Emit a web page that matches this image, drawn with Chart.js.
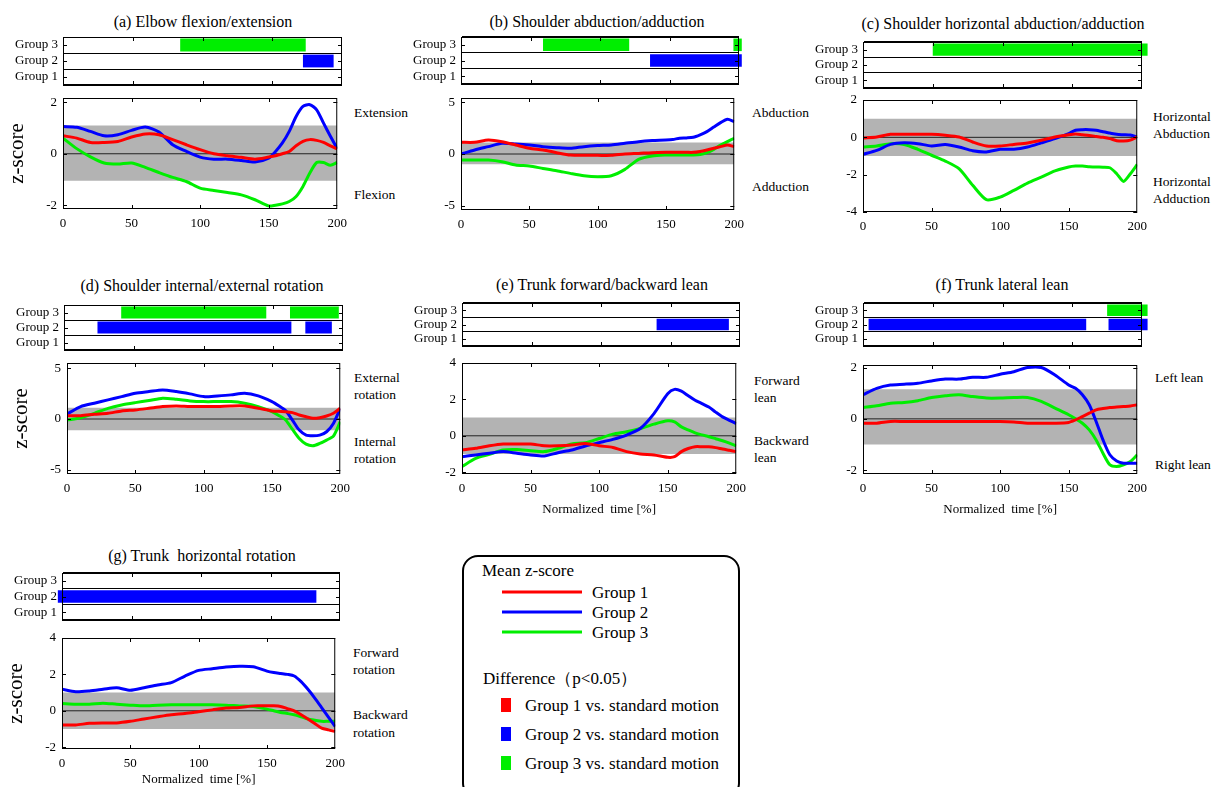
<!DOCTYPE html>
<html>
<head>
<meta charset="utf-8">
<title>Mean z-score</title>
<script src="https://cdn.jsdelivr.net/npm/chart.js@4.4.1/dist/chart.umd.min.js"></script>
<style>
  body { margin: 0; background: #fff; }
  #fig { position: relative; width: 1214px; height: 787px; overflow: hidden; background: #fff;
         font-family: 'Liberation Serif', 'Times New Roman', serif; color: #000; }
  #fig canvas { position: absolute; }
  .lbl { position: absolute; white-space: pre; line-height: 1; transform: translateY(-50%); font-size: 13.5px; }
  .ttl { position: absolute; white-space: pre; line-height: 1; transform: translate(-50%, -50%); font-size: 16px; }
  .leg { position: absolute; white-space: pre; line-height: 1; transform: translateY(-50%); font-size: 17px; }
  #legendBox { position: absolute; left: 462px; top: 555px; width: 274px; height: 240px;
               border: 2px solid #000; border-radius: 16px; }
</style>
</head>
<body>
<div id="fig"><div id="legendBox"></div></div>
<script>
// sample points along normalized time (%)
const timePts = [0, 10, 20, 30, 40, 50, 60, 70, 80, 90, 100, 110, 120, 130, 140, 150,
                 155, 160, 165, 170, 175, 180, 185, 190, 195, 200];
const groupNames = ['Group 1', 'Group 2', 'Group 3'];
const stripRows = ['Group 3', 'Group 2', 'Group 1'];
const groupColors = ['#ff0000', '#0000ff', '#00ee00'];
const xTickVals = [0, 50, 100, 150, 200];

// (a) Elbow flexion/extension
const elbowG1 = [0.70, 0.61, 0.44, 0.44, 0.48, 0.65, 0.77, 0.74, 0.55, 0.35, 0.16, 0.00, -0.08, -0.14, -0.21, -0.13, -0.08, 0.00, 0.09, 0.31, 0.48, 0.55, 0.52, 0.44, 0.31, 0.19];
const elbowG2 = [1.06, 1.03, 0.87, 0.70, 0.74, 0.91, 1.04, 0.85, 0.35, 0.09, -0.13, -0.21, -0.21, -0.26, -0.32, -0.17, 0.09, 0.42, 0.87, 1.45, 1.84, 1.91, 1.71, 1.19, 0.68, 0.19];
const elbowG3 = [0.61, 0.20, -0.12, -0.36, -0.40, -0.36, -0.53, -0.73, -0.92, -1.08, -1.34, -1.43, -1.51, -1.60, -1.79, -2.03, -2.00, -1.95, -1.86, -1.66, -1.27, -0.75, -0.34, -0.34, -0.45, -0.34];
const elbowSig = [[], [[172, 194]], [[84, 174]]];
const elbowBand = [-1.05, 1.1];

// (b) Shoulder abduction/adduction
const shAbdG1 = [1.13, 1.13, 1.35, 1.19, 0.87, 0.55, 0.39, 0.13, -0.10, -0.13, -0.13, -0.13, 0.00, 0.06, 0.13, 0.16, 0.16, 0.16, 0.16, 0.16, 0.25, 0.39, 0.55, 0.71, 0.87, 0.71];
const shAbdG2 = [0.00, 0.39, 0.71, 1.03, 0.97, 0.87, 0.71, 0.61, 0.55, 0.71, 0.81, 0.87, 1.03, 1.19, 1.29, 1.35, 1.40, 1.52, 1.55, 1.61, 1.85, 2.16, 2.60, 3.03, 3.35, 3.13];
const shAbdG3 = [-0.58, -0.58, -0.58, -0.74, -1.06, -1.16, -1.39, -1.61, -1.87, -2.10, -2.19, -2.10, -1.48, -0.52, -0.19, -0.10, -0.10, -0.10, -0.10, -0.10, -0.05, 0.13, 0.45, 0.87, 1.20, 1.52];
const shAbdSig = [[], [[136, 202]], [[59, 121], [196, 202]]];
const shAbdBand = [-1.0, 1.1];

// (c) Shoulder horizontal abduction/adduction
const shHorG1 = [-0.04, 0.02, 0.16, 0.16, 0.16, 0.16, 0.11, 0.02, -0.25, -0.46, -0.46, -0.38, -0.30, -0.16, 0.02, 0.14, 0.18, 0.14, 0.10, 0.05, 0.00, -0.07, -0.18, -0.20, -0.15, 0.02];
const shHorG2 = [-0.91, -0.70, -0.38, -0.29, -0.34, -0.46, -0.39, -0.52, -0.72, -0.78, -0.64, -0.64, -0.52, -0.30, -0.07, 0.20, 0.38, 0.41, 0.41, 0.38, 0.30, 0.23, 0.16, 0.14, 0.12, 0.02];
const shHorG3 = [-0.52, -0.46, -0.34, -0.38, -0.64, -0.96, -1.27, -1.68, -2.57, -3.34, -3.20, -2.84, -2.45, -2.13, -1.80, -1.59, -1.54, -1.54, -1.57, -1.59, -1.60, -1.63, -1.95, -2.36, -1.95, -1.45];
const shHorSig = [[], [], [[50, 204]]];
const shHorBand = [-1.0, 1.0];

// (d) Shoulder internal/external rotation
const shRotG1 = [0.33, 0.33, 0.46, 0.56, 0.79, 0.89, 1.05, 1.22, 1.28, 1.22, 1.22, 1.22, 1.28, 1.28, 1.05, 0.79, 0.75, 0.72, 0.63, 0.39, 0.23, 0.07, 0.13, 0.30, 0.56, 1.05];
const shRotG2 = [0.49, 1.22, 1.55, 1.88, 2.20, 2.53, 2.70, 2.86, 2.70, 2.47, 2.20, 2.27, 2.37, 2.53, 2.27, 1.71, 1.30, 0.82, -0.10, -1.09, -1.58, -1.64, -1.58, -1.25, -0.43, 1.05];
const shRotG3 = [-0.10, 0.13, 0.56, 1.05, 1.38, 1.61, 1.81, 2.04, 1.94, 1.78, 1.71, 1.71, 1.71, 1.55, 1.22, 0.72, 0.35, -0.10, -1.02, -1.91, -2.47, -2.63, -2.40, -2.07, -1.68, -0.26];
const shRotSig = [[], [[24, 163], [173, 192]], [[41, 145], [162, 197]]];
const shRotBand = [-1.1, 1.1];

// (e) Trunk forward/backward lean
const trFbG1 = [-0.78, -0.69, -0.55, -0.45, -0.45, -0.45, -0.55, -0.55, -0.51, -0.42, -0.55, -0.64, -0.87, -1.00, -1.05, -1.18, -1.15, -0.87, -0.70, -0.60, -0.60, -0.60, -0.65, -0.73, -0.80, -0.87];
const trFbG2 = [-1.15, -1.05, -0.96, -0.87, -0.96, -1.05, -1.11, -0.93, -0.78, -0.56, -0.38, -0.20, 0.04, 0.40, 1.22, 2.31, 2.55, 2.45, 2.20, 1.95, 1.77, 1.58, 1.30, 1.04, 0.85, 0.67];
const trFbG3 = [-1.69, -1.24, -1.02, -0.78, -0.75, -0.82, -0.87, -0.69, -0.45, -0.38, -0.15, 0.09, 0.22, 0.40, 0.64, 0.82, 0.76, 0.49, 0.32, 0.16, 0.05, -0.05, -0.16, -0.27, -0.40, -0.55];
const trFbSig = [[], [[140, 192]], []];
const trFbBand = [-1.0, 1.0];

// (f) Trunk lateral lean
const trLatG1 = [-0.17, -0.17, -0.10, -0.10, -0.10, -0.10, -0.10, -0.10, -0.10, -0.10, -0.10, -0.12, -0.17, -0.17, -0.17, -0.14, -0.04, 0.09, 0.22, 0.35, 0.40, 0.44, 0.46, 0.48, 0.50, 0.55];
const trLatG2 = [0.94, 1.19, 1.32, 1.35, 1.39, 1.48, 1.55, 1.55, 1.62, 1.62, 1.74, 1.84, 2.00, 2.00, 1.71, 1.32, 1.19, 0.94, 0.55, -0.10, -0.82, -1.40, -1.64, -1.73, -1.73, -1.73];
const trLatG3 = [0.44, 0.51, 0.61, 0.64, 0.71, 0.83, 0.90, 0.94, 0.87, 0.81, 0.81, 0.83, 0.83, 0.68, 0.42, 0.16, 0.00, -0.17, -0.43, -0.82, -1.34, -1.79, -1.86, -1.79, -1.66, -1.40];
const trLatSig = [[], [[4, 160], [176, 204]], [[175, 204]]];
const trLatBand = [-1.0, 1.15];

// (g) Trunk horizontal rotation
const trRotG1 = [-0.78, -0.78, -0.69, -0.67, -0.67, -0.58, -0.45, -0.33, -0.22, -0.15, -0.05, 0.05, 0.15, 0.18, 0.27, 0.27, 0.27, 0.24, 0.12, 0.00, -0.22, -0.45, -0.70, -0.95, -1.05, -1.13];
const trRotG2 = [1.18, 1.05, 1.09, 1.18, 1.27, 1.13, 1.27, 1.42, 1.55, 1.91, 2.22, 2.31, 2.40, 2.45, 2.42, 2.18, 2.10, 2.05, 2.00, 1.91, 1.60, 1.18, 0.70, 0.18, -0.35, -0.87];
const trRotG3 = [0.40, 0.36, 0.36, 0.42, 0.36, 0.31, 0.27, 0.31, 0.33, 0.33, 0.33, 0.33, 0.31, 0.27, 0.24, 0.09, 0.00, -0.09, -0.15, -0.22, -0.33, -0.45, -0.52, -0.58, -0.58, -0.58];
const trRotSig = [[], [[-3, 183]], []];
const trRotBand = [-1.0, 1.0];

const Y_AXIS_W = 60;
const PAD_R = 12;

// panel layout: where each strip / plot box sits on the page
const panels = [
    { title: '(a) Elbow flexion/extension', tx: 203, ty: 22,
      series: [elbowG1, elbowG2, elbowG3], sig: elbowSig, band: elbowBand,
      yMin: -2.15, yMax: 2.17, yTicks: [-2, 0, 2], zTitle: true,
      strip: { x: 63, y: 37, w: 279, h: 48 }, plot: { x: 63, y: 98, w: 279, h: 111 },
      side: [['Extension', 354, 113], ['Flexion', 354, 195]] },
    { title: '(b) Shoulder abduction/adduction', tx: 597, ty: 22,
      series: [shAbdG1, shAbdG2, shAbdG3], sig: shAbdSig, band: shAbdBand,
      yMin: -5.4, yMax: 5.4, yTicks: [-5, 0, 5],
      strip: { x: 461, y: 37, w: 278, h: 47 }, plot: { x: 461, y: 98, w: 278, h: 112 },
      side: [['Abduction', 752, 113], ['Adduction', 752, 187]] },
    { title: '(c) Shoulder horizontal abduction/adduction', tx: 1003, ty: 24,
      series: [shHorG1, shHorG2, shHorG3], sig: shHorSig, band: shHorBand,
      yMin: -4, yMax: 2, yTicks: [-4, -2, 0, 2],
      strip: { x: 863, y: 42, w: 279, h: 46 }, plot: { x: 863, y: 100, w: 279, h: 112 },
      side: [['Horizontal', 1153, 117], ['Abduction', 1153, 134], ['Horizontal', 1153, 182], ['Adduction', 1153, 199]] },
    { title: '(d) Shoulder internal/external rotation', tx: 202, ty: 286,
      series: [shRotG1, shRotG2, shRotG3], sig: shRotSig, band: shRotBand,
      yMin: -5.4, yMax: 5.5, yTicks: [-5, 0, 5], zTitle: true,
      strip: { x: 64, y: 305, w: 279, h: 45 }, plot: { x: 67, y: 363, w: 278, h: 111 },
      side: [['External', 354, 378], ['rotation', 354, 395], ['Internal', 354, 442], ['rotation', 354, 459]] },
    { title: '(e) Trunk forward/backward lean', tx: 602, ty: 285,
      series: [trFbG1, trFbG2, trFbG3], sig: trFbSig, band: trFbBand,
      yMin: -2.1, yMax: 4, yTicks: [-2, 0, 2, 4], xTitleH: 47,
      strip: { x: 462, y: 303, w: 278, h: 43 }, plot: { x: 462, y: 363, w: 279, h: 111 },
      side: [['Forward', 754, 381], ['lean', 754, 398], ['Backward', 754, 441], ['lean', 754, 458]] },
    { title: '(f) Trunk lateral lean', tx: 1002, ty: 285,
      series: [trLatG1, trLatG2, trLatG3], sig: trLatSig, band: trLatBand,
      yMin: -2.15, yMax: 2.1, yTicks: [-2, 0, 2], xTitleH: 47,
      strip: { x: 863, y: 303, w: 279, h: 43 }, plot: { x: 863, y: 365, w: 279, h: 109 },
      side: [['Left lean', 1155, 378], ['Right lean', 1155, 465]] },
    { title: '(g) Trunk  horizontal rotation', tx: 202, ty: 556,
      series: [trRotG1, trRotG2, trRotG3], sig: trRotSig, band: trRotBand,
      yMin: -2.1, yMax: 4, yTicks: [-2, 0, 2, 4], zTitle: true, xTitleH: 42,
      strip: { x: 62, y: 573, w: 278, h: 47 }, plot: { x: 62, y: 638, w: 278, h: 111 },
      side: [['Forward', 353, 653], ['rotation', 353, 670], ['Backward', 353, 715], ['rotation', 353, 733]] }
];

// box round the plot area plus small inward tick marks
const framePlugin = {
    id: 'frame',
    afterDatasetsDraw(chart, args, opts) {
        const { ctx, chartArea: a } = chart;
        ctx.save();
        ctx.strokeStyle = '#000';
        ctx.lineWidth = 1;
        ctx.strokeRect(a.left + 0.5, a.top + 0.5, a.width - 1, a.height - 1);
        ctx.beginPath();
        (opts.xMarks || []).forEach(v => {
            const px = Math.round(chart.scales.x.getPixelForValue(v)) + 0.5;
            ctx.moveTo(px, a.top); ctx.lineTo(px, a.top + 4);
            ctx.moveTo(px, a.bottom); ctx.lineTo(px, a.bottom - 4);
        });
        (opts.yMarks || []).forEach(v => {
            const py = Math.round(chart.scales.y.getPixelForValue(v)) + 0.5;
            ctx.moveTo(a.left, py); ctx.lineTo(a.left + 4, py);
            ctx.moveTo(a.right, py); ctx.lineTo(a.right - 4, py);
        });
        ctx.stroke();
        ctx.restore();
    }
};

// fixed axis width, and no extra label overhang so the plot box lands where wanted
function fixYAxis(s) {
    s.width = Y_AXIS_W;
    s.paddingTop = 0;
    s.paddingBottom = 0;
}

function addCanvas(left, top, w, h) {
    const c = document.createElement('canvas');
    c.width = w;
    c.height = h;
    c.style.left = left + 'px';
    c.style.top = top + 'px';
    document.getElementById('fig').appendChild(c);
    return c;
}

function addText(cls, text, x, y, extra) {
    const d = document.createElement('div');
    d.className = cls;
    d.textContent = text;
    d.style.left = x + 'px';
    d.style.top = y + 'px';
    if (extra) Object.assign(d.style, extra);
    document.getElementById('fig').appendChild(d);
    return d;
}

function makeStrip(p) {
    const L = p.strip;
    const padT = 2, padB = 2;
    const canvas = addCanvas(L.x - Y_AXIS_W, L.y - padT, Y_AXIS_W + L.w + PAD_R, L.h + padT + padB);

    // one floating bar per significant interval
    const datasets = [];
    p.sig.forEach((ranges, gi) => {
        const row = stripRows.indexOf(groupNames[gi]);
        ranges.forEach(r => {
            datasets.push({
                data: stripRows.map((_, i) => (i === row ? r : null)),
                backgroundColor: groupColors[gi],
                grouped: false,
                barPercentage: 0.8,
                categoryPercentage: 1,
                clip: false
            });
        });
    });

    new Chart(canvas, {
        type: 'bar',
        data: { labels: stripRows, datasets },
        plugins: [framePlugin],
        options: {
            responsive: false,
            animation: false,
            devicePixelRatio: 1,
            indexAxis: 'y',
            layout: { padding: { top: padT, bottom: padB, left: 0, right: PAD_R } },
            plugins: {
                legend: { display: false },
                tooltip: { enabled: false },
                frame: { xMarks: [50, 100, 150], yMarks: [0, 1, 2] }
            },
            scales: {
                x: { type: 'linear', min: 0, max: 200, display: false },
                y: {
                    grid: { color: '#000', drawTicks: false, offset: true },
                    border: { color: '#000' },
                    ticks: { padding: 5, autoSkip: false, font: { size: 13 } },
                    afterFit: fixYAxis
                }
            }
        }
    });
}

function makeLines(p) {
    const L = p.plot;
    const padT = 10;
    const xh = p.xTitleH || 25;
    const canvas = addCanvas(L.x - Y_AXIS_W, L.y - padT, Y_AXIS_W + L.w + PAD_R, padT + L.h + xh);

    const pts = arr => timePts.map((t, i) => ({ x: t, y: arr[i] }));
    const flat = v => [{ x: 0, y: v }, { x: 200, y: v }];

    const curves = p.series.map((s, gi) => ({
        data: pts(s),
        borderColor: groupColors[gi],
        borderWidth: 3,
        pointRadius: 0,
        tension: 0.25,
        fill: false
    }));

    new Chart(canvas, {
        type: 'line',
        data: {
            datasets: [
                ...curves,
                { data: flat(0), borderColor: '#222', borderWidth: 1, pointRadius: 0, fill: false },
                { data: flat(p.band[1]), borderWidth: 0, pointRadius: 0, fill: '+1', backgroundColor: '#b3b3b3' },
                { data: flat(p.band[0]), borderWidth: 0, pointRadius: 0, fill: false }
            ]
        },
        plugins: [framePlugin],
        options: {
            responsive: false,
            animation: false,
            devicePixelRatio: 1,
            layout: { padding: { top: padT, bottom: 0, left: 0, right: PAD_R } },
            plugins: {
                legend: { display: false },
                tooltip: { enabled: false },
                frame: { xMarks: [50, 100, 150], yMarks: p.yTicks }
            },
            scales: {
                x: {
                    type: 'linear', min: 0, max: 200,
                    grid: { display: false, drawTicks: false },
                    border: { display: false },
                    ticks: { padding: 7, maxRotation: 0, font: { size: 13 } },
                    afterBuildTicks: s => { s.ticks = xTickVals.map(v => ({ value: v })); },
                    afterFit: s => { s.height = xh; s.paddingLeft = 0; },
                    title: {
                        display: !!p.xTitleH,
                        text: 'Normalized  time [%]',
                        font: { size: 13 },
                        padding: { top: 4, bottom: 4 }
                    }
                },
                y: {
                    min: p.yMin, max: p.yMax,
                    grid: { display: false, drawTicks: false },
                    border: { display: false },
                    ticks: { padding: 6, font: { size: 13 } },
                    afterBuildTicks: s => { s.ticks = p.yTicks.map(v => ({ value: v })); },
                    afterFit: fixYAxis,
                    title: {
                        display: !!p.zTitle,
                        text: 'z-score',
                        font: { size: 21 },
                        padding: { top: 2, bottom: 2 }
                    }
                }
            }
        }
    });
}

function makeLegend() {
    addText('leg', 'Mean z-score', 482, 570);
    groupNames.forEach((g, i) => {
        const y = 592 + i * 20;
        addText('leg', '', 502, y, { width: '80px', height: '3px', background: groupColors[i] });
        addText('leg', g, 592, y);
    });
    addText('leg', 'Difference（p<0.05）', 483, 678);
    [705, 734, 763].forEach((y, i) => {
        addText('leg', '', 501, y, { width: '10px', height: '14px', background: groupColors[i] });
        addText('leg', groupNames[i] + ' vs. standard motion', 525, y);
    });
}

document.addEventListener('DOMContentLoaded', () => {
    Chart.defaults.font.family = "'Liberation Serif', 'Times New Roman', serif";
    Chart.defaults.color = '#000';

    panels.forEach(p => {
        addText('ttl', p.title, p.tx, p.ty);
        p.side.forEach(([t, x, y]) => addText('lbl', t, x, y));
        makeStrip(p);
        makeLines(p);
    });
    makeLegend();
});
</script>
</body>
</html>
